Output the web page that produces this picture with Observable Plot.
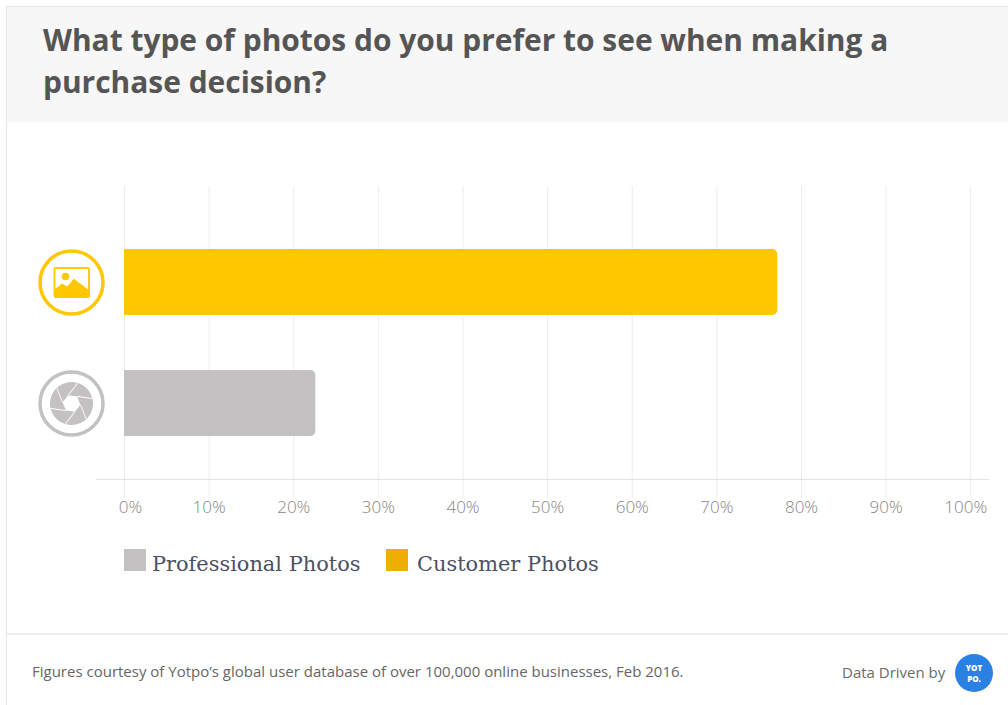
<!DOCTYPE html>
<html>
<head>
<meta charset="utf-8">
<script src="https://cdn.jsdelivr.net/npm/d3@7"></script>
<script src="https://cdn.jsdelivr.net/npm/@observablehq/plot@0.6"></script>
<style>
  html, body { margin: 0; padding: 0; background: #fff; width: 1008px; height: 705px; overflow: hidden; }
  #card { position: absolute; left: 6px; top: 6px; width: 1002px; height: 699px; box-sizing: border-box;
          border-left: 1px solid #e6e6e6; border-top: 1px solid #e6e6e6; }
  #head { height: 115px; background: #f7f7f7; box-sizing: border-box; padding: 12px 0 0 36px;
          font: 700 29.93px/42px "Open Sans", sans-serif; color: #555; }
  #chart { position: absolute; left: -7px; top: 115px; }
  #chart svg { display: block; }
  #legend { position: absolute; left: 117px; top: 542px; height: 22px; font: 300 20.9px/30px "DejaVu Serif", serif; color: #4c5064; }
  .key { position: absolute; top: 0; white-space: nowrap; }
  .swatch { position: absolute; top: 0; width: 22px; height: 22px; }
  #foot { position: absolute; left: 0; right: 0; top: 626px; height: 73px; border-top: 2px solid #eee;
          font: 400 15px/20px "Open Sans", sans-serif; color: #666; }
  #note { position: absolute; left: 25px; top: 26px; white-space: nowrap; }
  #by { position: absolute; left: 835px; top: 27px; white-space: nowrap; color: #6b6b6b; }
  #badge { position: absolute; left: 948px; top: 19px; width: 38px; height: 38px; border-radius: 50%; background: #2b80e3;
           color: #fff; font: 800 8px/11px "Open Sans", sans-serif; text-align: center; box-sizing: border-box; padding-top: 8px; }
</style>
</head>
<body>
<div id="card">
  <div id="head">What type of photos do you prefer to see when making a<br>purchase decision?</div>
  <div id="chart"></div>
  <div id="legend"></div>
  <div id="foot">
    <div id="note">Figures courtesy of Yotpo’s global user database of over 100,000 online businesses, Feb 2016.</div>
    <div id="by">Data Driven by</div>
    <div id="badge">YOT<br>PO.</div>
  </div>
</div>
<script>
// Survey answers, share of respondents in percent
const photoTypes = ["Customer Photos", "Professional Photos"];
const shares = [77.2, 22.6];
const barColors = ["#ffc700", "#c3c1c1"];
const legendLabels = ["Professional Photos", "Customer Photos"];
const legendColors = ["#c3c1c1", "#f0ae00"];
const legendOffsets = [0, 262];
const percentTicks = [0, 10, 20, 30, 40, 50, 60, 70, 80, 90, 100];

const rows = photoTypes.map((type, i) => ({type, share: shares[i], color: barColors[i]}));

// Small inline pictograms shown inside the ring beside each bar
const svgUri = (body) => "data:image/svg+xml," + encodeURIComponent(
  `<svg xmlns="http://www.w3.org/2000/svg" viewBox="0 0 44 44">${body}</svg>`);

const pictureIcon = svgUri(`
  <rect x="5" y="7.5" width="34.5" height="29" rx="1.2" fill="#fff" stroke="#ffc700" stroke-width="1.8"/>
  <circle cx="16" cy="16" r="3.8" fill="#ffc700"/>
  <path d="M4.5 37 V29.5 L12.5 23 L17.7 26 L24.3 18.3 L40 30 V37 Z" fill="#ffc700"/>`);

// Aperture: a disc with a hexagonal opening; each blade edge runs on from a hexagon corner
const hexCorners = d3.range(6).map(i => {
  const a = i * Math.PI / 3;
  return `${(9 * Math.cos(a)).toFixed(2)},${(9 * Math.sin(a)).toFixed(2)}`;
}).join(" ");
const blades = d3.range(6).map(i =>
  `<line x1="9" y1="0" x2="16.6" y2="13.2" stroke="#fff" stroke-width="0.9" transform="rotate(${i * 60})"/>`
).join("");
const apertureIcon = svgUri(`
  <g transform="translate(22 22) rotate(8)">
    <circle r="21.5" fill="#c3c1c1"/>
    <polygon points="${hexCorners}" fill="#fff"/>
    ${blades}
  </g>`);

const icons = {"Customer Photos": pictureIcon, "Professional Photos": apertureIcon};
const gridColor = "#ececec";

const chart = Plot.plot({
  width: 1008,
  height: 408,
  marginLeft: 96,
  marginRight: 20,
  marginTop: 64,
  marginBottom: 51,
  style: {background: "transparent", fontFamily: "'Open Sans', sans-serif"},
  x: {domain: [-3.31, 102.1], axis: null, label: null},
  y: {
    domain: photoTypes,
    axis: null,
    range: [99.5, 341.5],
    paddingInner: 0.4545,
    paddingOuter: 0.227
  },
  marks: [
    Plot.ruleX(percentTicks, {stroke: gridColor}),
    Plot.axisX({
      anchor: "bottom",
      ticks: percentTicks,
      tickSize: 19,
      stroke: gridColor,
      label: null,
      tickFormat: () => ""
    }),
    Plot.frame({anchor: "bottom", stroke: "#e2e2e2"}),
    Plot.barX(rows, {y: "type", x: "share", fill: "color", rx2: 5}),
    // Rings and pictograms sit left of the plot frame
    Plot.dot(rows, {
      y: "type", frameAnchor: "left", dx: -25, r: 31.5,
      stroke: d => d.color, strokeWidth: 3.5, fill: "#fff"
    }),
    Plot.image(rows, {
      y: "type", frameAnchor: "left", dx: -25, width: 44, height: 44,
      src: d => icons[d.type]
    }),
    // Tick labels: the end ones are nudged inward
    ...[[d => d === 0, 6], [d => d > 0 && d < 100, 0], [d => d === 100, -5]].map(([keep, dx]) =>
      Plot.text(percentTicks.filter(keep), {
        x: d => d, text: d => d + "%", frameAnchor: "bottom", dy: 33, dx,
        fill: "#858585", fontSize: 17, fontWeight: 300
      })
    )
  ]
});
document.getElementById("chart").appendChild(chart);

// Legend under the chart
const legend = document.getElementById("legend");
legendLabels.forEach((label, i) => {
  const swatch = document.createElement("div");
  swatch.className = "swatch";
  swatch.style.left = legendOffsets[i] + "px";
  swatch.style.background = legendColors[i];
  legend.appendChild(swatch);
  const key = document.createElement("div");
  key.className = "key";
  key.style.left = legendOffsets[i] + 28 + (i ? 3 : 0) + "px";
  key.textContent = label;
  legend.appendChild(key);
});
</script>
</body>
</html>
